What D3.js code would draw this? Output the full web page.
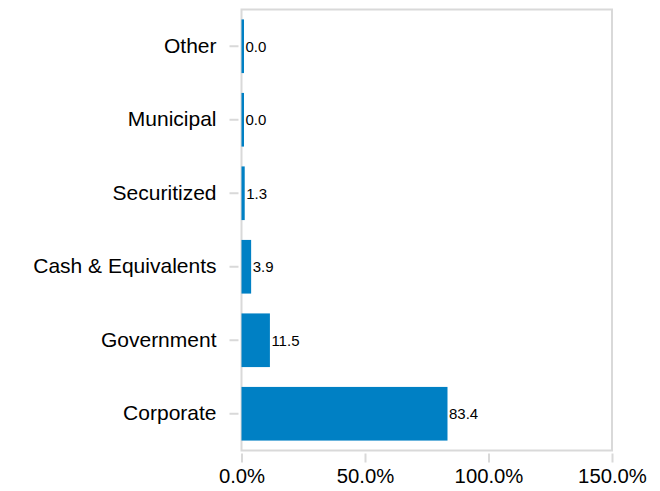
<!DOCTYPE html>
<html>
<head>
<meta charset="utf-8">
<script src="https://cdn.jsdelivr.net/npm/d3@7/dist/d3.min.js"></script>
<style>
  html, body { margin: 0; padding: 0; background: #fff; }
  svg { display: block; font-family: "Liberation Sans", Arial, sans-serif; }
</style>
</head>
<body>
<svg id="chart" width="660" height="491"></svg>
<script>
// Sector allocation (% of portfolio)
const categories = ["Other", "Municipal", "Securitized", "Cash & Equivalents", "Government", "Corporate"];
const values = [0.0, 0.0, 1.3, 3.9, 11.5, 83.4];
const xTicks = [0, 50, 100, 150];

const W = 660, H = 491;
const margin = { top: 9.5, right: 48, bottom: 40.5, left: 241.5 };
const innerW = W - margin.left - margin.right;
const innerH = H - margin.top - margin.bottom;

const svg = d3.select("#chart");
const g = svg.append("g").attr("transform", `translate(${margin.left},${margin.top})`);

const x = d3.scaleLinear().domain([0, 150]).range([0, innerW]);
const y = d3.scaleBand().domain(categories).range([0, innerH]).paddingInner(0.27).paddingOuter(0.135);

const gridColor = "#d9d9d9";

// plot frame
g.append("rect")
  .attr("x", 0).attr("y", 0)
  .attr("width", innerW).attr("height", innerH)
  .attr("fill", "none")
  .attr("stroke", gridColor)
  .attr("stroke-width", 2);

// bars (zero values keep a thin visible sliver)
const data = categories.map((c, i) => ({ cat: c, val: values[i] }));
const barW = d => Math.max(2.5, x(d.val) - x(0));
g.selectAll("rect.bar")
  .data(data)
  .enter().append("rect")
  .attr("class", "bar")
  .attr("x", x(0))
  .attr("y", d => y(d.cat))
  .attr("width", barW)
  .attr("height", y.bandwidth())
  .attr("fill", "#0080c4");

// value labels
g.selectAll("text.val")
  .data(data)
  .enter().append("text")
  .attr("class", "val")
  .attr("x", d => barW(d) + 1.5)
  .attr("y", d => y(d.cat) + y.bandwidth() / 2)
  .attr("dy", "0.35em")
  .attr("font-size", 15)
  .attr("fill", "#000")
  .text(d => d.val.toFixed(1));

// y axis
const yAxis = d3.axisLeft(y).tickSize(9).tickPadding(13);
const yg = g.append("g").attr("transform", "translate(-3,0)").call(yAxis);
yg.select(".domain").remove();
yg.selectAll(".tick line").attr("stroke", gridColor).attr("stroke-width", 2);
yg.selectAll(".tick text").attr("font-size", 21).attr("fill", "#000")
  .attr("font-family", "'Liberation Sans', Arial, sans-serif");

// x axis
const xAxis = d3.axisBottom(x).tickValues(xTicks).tickSize(9).tickPadding(6)
  .tickFormat(d => d.toFixed(1) + "%");
const xg = g.append("g").attr("transform", `translate(0,${innerH + 3})`).call(xAxis);
xg.select(".domain").remove();
xg.selectAll(".tick line").attr("stroke", gridColor).attr("stroke-width", 2);
xg.selectAll(".tick text").attr("font-size", 20.3).attr("fill", "#000")
  .attr("font-family", "'Liberation Sans', Arial, sans-serif");
</script>
</body>
</html>
